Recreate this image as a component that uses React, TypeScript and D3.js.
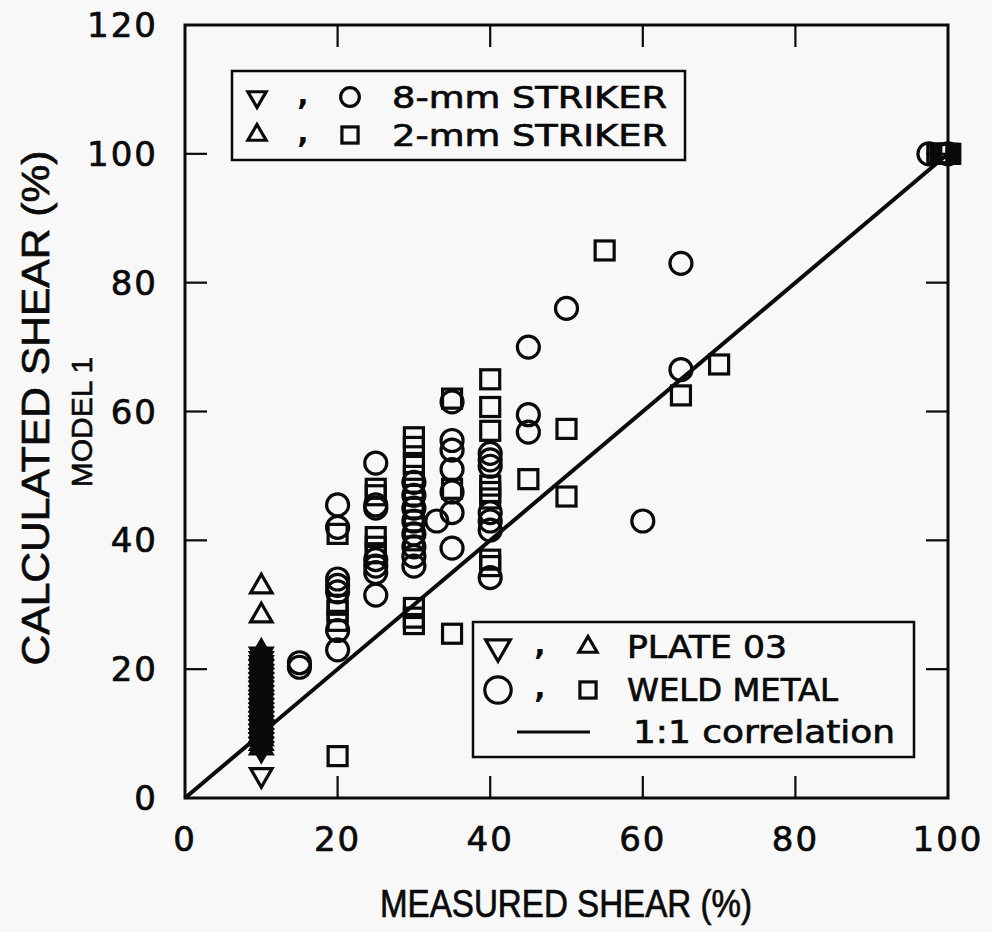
import React from 'react';
import * as d3 from 'd3';

// ---- data (measured %, calculated %) ----
const xTicks = [0, 20, 40, 60, 80, 100];
const yTicks = [0, 20, 40, 60, 80, 100, 120];
const innerTicksX = [20, 40, 60, 80];
const innerTicksY = [20, 40, 60, 80, 100];

// Plate 03, 8-mm striker (down triangles)
const plate8mm: [number, number][] = [
  [10, 22.3], [10, 21.6], [10, 21], [10, 20.3], [10, 19.6], [10, 19], [10, 18.3], [10, 17.6],
  [10, 17], [10, 16.3], [10, 15.6], [10, 15], [10, 14.3], [10, 13.6], [10, 13], [10, 12.3],
  [10, 11.6], [10, 11], [10, 10.3], [10, 9.6], [10, 9], [10, 8.3], [10, 7.6], [10, 3.6],
];
// Plate 03, 2-mm striker (up triangles)
const plate2mm: [number, number][] = [
  [10, 32.8], [10, 28.3], [10, 22.6], [10, 21.8], [10, 21.2], [10, 20.5], [10, 19.8], [10, 19.2],
  [10, 18.5], [10, 17.8], [10, 17.2], [10, 16.5], [10, 15.8], [10, 15.2], [10, 14.5], [10, 13.8],
  [10, 13.2], [10, 12.5], [10, 11.8], [10, 11.2], [10, 10.5], [10, 9.8], [10, 9.2], [10, 8.5], [10, 7.8],
];
// Weld metal, 8-mm striker (circles)
const weld8mm: [number, number][] = [
  [15, 21], [15, 20.3],
  [20, 45.5], [20, 42], [20, 34], [20, 33], [20, 32], [20, 26], [20, 23],
  [25, 52], [25, 45.5], [25, 45], [25, 37], [25, 36], [25, 35], [25, 31.5],
  [30, 49], [30, 47], [30, 45], [30, 43], [30, 41], [30, 39], [30, 37.5], [30, 36],
  [33, 43],
  [35, 61.5], [35, 55.5], [35, 54], [35, 51], [35, 47.5], [35, 44.3], [35, 38.8],
  [40, 53.5], [40, 52.5], [40, 51.5], [40, 44.3], [40, 43], [40, 41.6], [40, 34.2],
  [45, 70], [45, 59.5], [45, 56.8],
  [50, 76],
  [60, 43],
  [65, 83], [65, 66.5],
  [97.5, 100], [100, 100],
];
// Weld metal, 2-mm striker (squares)
const weld2mm: [number, number][] = [
  [20, 41], [20, 30], [20, 29], [20, 27.5], [20, 6.5],
  [25, 48], [25, 47], [25, 40.5], [25, 39], [25, 38],
  [30, 56], [30, 54.5], [30, 52], [30, 50], [30, 48], [30, 46], [30, 44], [30, 42], [30, 40],
  [30, 29.5], [30, 28], [30, 27],
  [35, 62], [35, 48], [35, 25.5],
  [40, 65], [40, 60.7], [40, 57], [40, 48.5], [40, 47.5], [40, 46.5], [40, 37], [40, 36],
  [45, 49.5],
  [50, 57.3], [50, 46.8],
  [55, 85],
  [65, 62.5],
  [70, 67.3],
  [98.6, 100], [99, 100], [99.3, 100], [99.6, 100], [100, 100], [100.3, 100],
];
const correlation: [number, number][] = [[0, 0], [100, 100]];

const legendTop = [
  { a: 'down', b: 'circle', label: '8-mm STRIKER' },
  { a: 'up', b: 'square', label: '2-mm STRIKER' },
];
const legendBottom = [
  { a: 'down', b: 'up', label: 'PLATE 03' },
  { a: 'circle', b: 'square', label: 'WELD METAL' },
];

const W = 992;
const H = 932;
const FONT = 'DejaVu Sans, Verdana, sans-serif';
const NARROW = 'Liberation Sans Narrow, Liberation Sans, Arial, sans-serif';
const BG = '#f8f8f8';
const INK = '#0a0a0a';

function Marker({ kind, x, y, s = 1 }: { kind: string; x: number; y: number; s?: number }) {
  const sw = 3.2;
  if (kind === 'circle') {
    return <circle cx={x} cy={y} r={11 * s} fill="none" stroke={INK} strokeWidth={sw} />;
  }
  if (kind === 'square') {
    const h = 9.5 * s;
    return <rect x={x - h} y={y - h} width={2 * h} height={2 * h} fill="none" stroke={INK} strokeWidth={sw} />;
  }
  const size = 200 * s * s;
  const path = d3.symbol().type(d3.symbolTriangle).size(size)() as string;
  const rot = kind === 'down' ? 180 : 0;
  return (
    <path d={path} transform={`translate(${x},${y}) rotate(${rot})`} fill="none" stroke={INK} strokeWidth={sw} strokeLinejoin="miter" />
  );
}

export default function App() {
  const x = d3.scaleLinear().domain([0, 100]).range([185, 948]);
  const y = d3.scaleLinear().domain([0, 120]).range([798, 25]);
  const line = d3.line<[number, number]>().x((d) => x(d[0])).y((d) => y(d[1]));
  const tickLen = 22;
  const heavy = { stroke: INK, strokeWidth: 0.7 };

  return (
    <svg width={W} height={H} style={{ position: 'absolute', left: 0, top: 0, background: BG }} fontFamily={FONT}>
      <rect x={0} y={0} width={W} height={H} fill={BG} />

      {/* 1:1 correlation line */}
      <path d={line(correlation) as string} stroke={INK} strokeWidth={4} fill="none" />

      {/* data */}
      <g>
        {plate2mm.map((d, i) => <Marker key={'u' + i} kind="up" x={x(d[0])} y={y(d[1])} />)}
        {plate8mm.map((d, i) => <Marker key={'d' + i} kind="down" x={x(d[0])} y={y(d[1])} />)}
        {weld8mm.map((d, i) => <Marker key={'c' + i} kind="circle" x={x(d[0])} y={y(d[1])} />)}
        {weld2mm.map((d, i) => <Marker key={'s' + i} kind="square" x={x(d[0])} y={y(d[1])} />)}
      </g>

      {/* frame */}
      <rect x={x(0)} y={y(120)} width={x(100) - x(0)} height={y(0) - y(120)} fill="none" stroke={INK} strokeWidth={3} />
      {innerTicksX.map((t) => (
        <g key={'tx' + t}>
          <line x1={x(t)} x2={x(t)} y1={y(0)} y2={y(0) - tickLen} stroke={INK} strokeWidth={2.2} />
          <line x1={x(t)} x2={x(t)} y1={y(120)} y2={y(120) + tickLen} stroke={INK} strokeWidth={2.2} />
        </g>
      ))}
      {innerTicksY.map((t) => (
        <g key={'ty' + t}>
          <line x1={x(0)} x2={x(0) + tickLen} y1={y(t)} y2={y(t)} stroke={INK} strokeWidth={2.2} />
          <line x1={x(100)} x2={x(100) - tickLen} y1={y(t)} y2={y(t)} stroke={INK} strokeWidth={2.2} />
        </g>
      ))}

      {/* tick labels */}
      {yTicks.map((t) => (
        <text key={'ly' + t} x={158} y={y(t)} textAnchor="end" dominantBaseline="central" fontSize={34} fill={INK} letterSpacing={2} {...heavy}>
          {t}
        </text>
      ))}
      {xTicks.map((t) => (
        <text key={'lx' + t} x={x(t)} y={839} textAnchor="middle" dominantBaseline="central" fontSize={34} fill={INK} letterSpacing={2} {...heavy}>
          {t}
        </text>
      ))}

      {/* axis titles */}
      <text x={566} y={904} textAnchor="middle" dominantBaseline="central" fontSize={38} fill={INK}
        fontFamily={NARROW} textLength={372} lengthAdjust="spacingAndGlyphs" {...heavy}>
        MEASURED SHEAR (%)
      </text>
      <text transform="translate(36,408) rotate(-90)" textAnchor="middle" dominantBaseline="central" fontSize={38} fill={INK}
        fontFamily={NARROW} textLength={515} lengthAdjust="spacingAndGlyphs" {...heavy}>
        CALCULATED SHEAR (%)
      </text>
      <g transform="translate(81,422) rotate(-90)">
        <text x={0} y={0} textAnchor="middle" dominantBaseline="central" fontSize={30} fill={INK}
          fontFamily={NARROW} stroke={INK} strokeWidth={0.6}>
          MODEL 1
        </text>
      </g>

      {/* top-left legend */}
      <rect x={232} y={71} width={453} height={89} fill={BG} stroke={INK} strokeWidth={2.5} />
      {legendTop.map((r, i) => {
        const cy = 97 + i * 38;
        return (
          <g key={'lt' + i}>
            <Marker kind={r.a} x={257} y={cy} s={0.85} />
            <text x={303} y={cy + 8} textAnchor="middle" fontSize={30} fill={INK} fontWeight="bold">,</text>
            <Marker kind={r.b} x={350} y={cy} s={0.85} />
            <text x={392} y={cy} dominantBaseline="central" fontSize={30} fill={INK} textLength={275} lengthAdjust="spacingAndGlyphs" {...heavy}>
              {r.label}
            </text>
          </g>
        );
      })}

      {/* bottom-right legend */}
      <rect x={473} y={622} width={441} height={135} fill={BG} stroke={INK} strokeWidth={2.5} />
      {legendBottom.map((r, i) => {
        const cy = 647 + i * 43;
        return (
          <g key={'lb' + i}>
            <Marker kind={r.a} x={498} y={cy} s={r.a === 'circle' ? 1.2 : 1.15} />
            <text x={540} y={cy + 8} textAnchor="middle" fontSize={30} fill={INK} fontWeight="bold">,</text>
            <Marker kind={r.b} x={588} y={cy} s={0.85} />
            <text x={627} y={cy} dominantBaseline="central" fontSize={32} fill={INK}
              textLength={i === 0 ? 160 : 211} lengthAdjust="spacingAndGlyphs" {...heavy}>
              {r.label}
            </text>
          </g>
        );
      })}
      <line x1={517} x2={590} y1={732} y2={732} stroke={INK} strokeWidth={3} />
      <text x={633} y={732} dominantBaseline="central" fontSize={32} fill={INK} textLength={262} lengthAdjust="spacingAndGlyphs" {...heavy}>
        1:1 correlation
      </text>
    </svg>
  );
}
